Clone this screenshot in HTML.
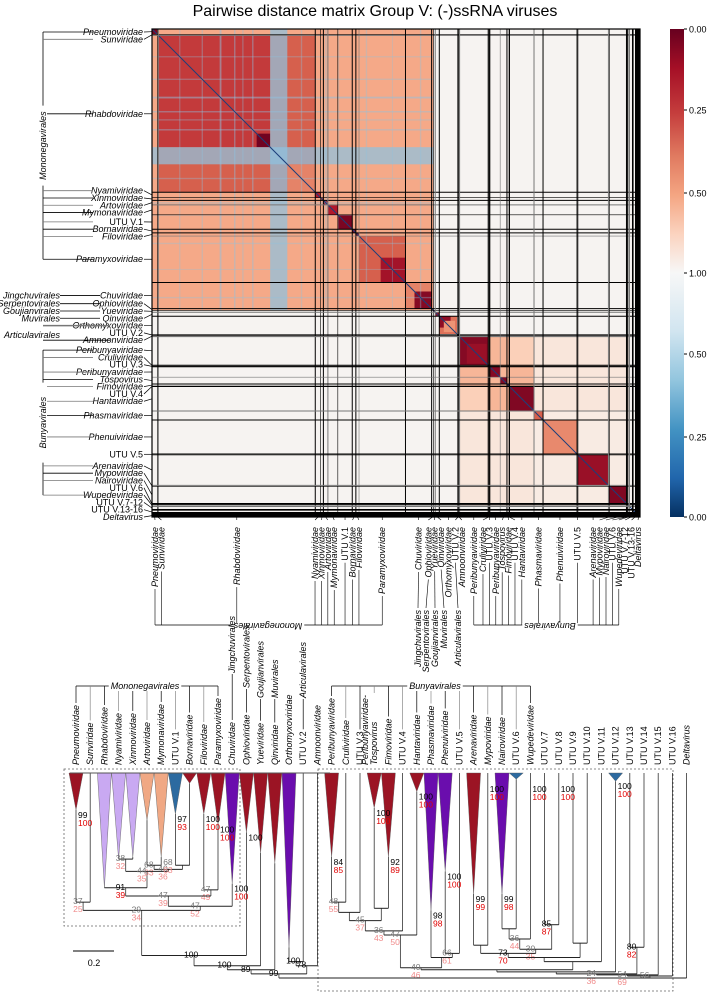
<!DOCTYPE html>
<html><head><meta charset="utf-8">
<style>
html,body{margin:0;padding:0;background:#fff;}
svg{display:block;font-family:"Liberation Sans",sans-serif;}
</style></head>
<body>
<svg id="fig" width="707" height="992" viewBox="0 0 707 992" xmlns="http://www.w3.org/2000/svg">
<text x="375" y="16" font-size="16" text-anchor="middle">Pairwise distance matrix Group V: (-)ssRNA viruses</text>
<g id="heat"></g>
<g id="heatlines"></g>
<g id="cbar"></g>
<g id="rowlab"></g>
<g id="collab"></g>
<g id="tree"></g>
</svg>
<script>
// ---------- heatmap data ----------
const famNames=['Pneumoviridae','Sunviridae','Rhabdoviridae','Nyamiviridae','Xinmoviridae','Artoviridae','Mymonaviridae','UTU V.1','Bornaviridae','Filoviridae','Paramyxoviridae','Chuviridae','Ophioviridae','Yueviridae','Qinviridae','Orthomyxoviridae','UTU V.2','Amnoonviridae','Peribunyaviridae','Cruliviridae','UTU V.3','Peribunyaviridae','Tospovirus','Fimoviridae','UTU V.4','Hantaviridae','Phasmaviridae','Phenuiviridae','UTU V.5','Arenaviridae','Mypoviridae','Nairoviridae','UTU V.6','Wupedeviridae','UTU V.7-12','UTU V.13-16','Deltavirus'];
const famSizes=[12,2,348,12,6,10,22,32,8,7,103,58,4,4,9,40,3,2,63,2,2,23,15,5,1,54,20,75,2,68,2,38,2,4,8,10,6];
const famGroups=['M','M','M','M','M','M','M','M','M','M','M','M','M','X','X','X','X','X','B1','B1','B1','B1','B1','B1','B1','B1','B2','B2','B2','B2','B2','B2','B2','B2','O','O','O'];
const famSelf=[0.04,0.1,0.3,0.15,0.2,0.1,0.15,0.04,0.06,0.08,0.32,0.4,0.1,0.1,0.1,0.35,0.1,0.1,0.08,0.1,0.1,0.06,0.05,0.1,0.1,0.05,0.3,0.42,0.1,0.1,0.1,0.05,0.1,0.1,0.95,0.95,0.95];
const crossGroups=['M|M','B1|B1','B1|B2','B2|B2'];
const crossVals=[0.52,0.58,0.86,0.9];
const hantaPeriVal=0.7;
const otherVal=0.98;
const subStart=[14,232,300,459,507,582,637,647,682,698];
const subEnd=[262,262,362,562,562,620,662,672,745,742];
const subVal=[0.22,0.02,0.4,0.3,0.12,0.06,0.08,0.45,0.06,0.1];
const stripeStart=[262,150,182,222,384,412,474,532,594,110,60,200,330];
const stripeEnd=[300,154,185,225,387,414,477,534,597,113,63,203,333];
const stripeAlpha=[0.72,0.5,0.45,0.45,0.4,0.35,0.35,0.35,0.35,0.35,0.3,0.35,0.35];
const cbTicksTop=['0.00','0.25','0.50','1.00'];
const cbTicksBot=['0.50','0.25','0.00'];

const NS='http://www.w3.org/2000/svg';
function el(tag,attrs,parent){const e=document.createElementNS(NS,tag);for(const k in attrs)e.setAttribute(k,attrs[k]);if(parent)parent.appendChild(e);return e;}
const HX0=152,HY0=29,HS=488;
const total=famSizes.reduce((a,b)=>a+b,0);
const sc=v=>v/total*HS;
const starts=[];let acc=0;famSizes.forEach(s=>{starts.push(acc);acc+=s;});
const redStops=[[0,[103,0,31]],[0.15,[178,24,43]],[0.3,[214,96,77]],[0.5,[244,165,130]],[0.75,[253,219,199]],[1,[245,245,245]]];
function cmap(v){for(let i=1;i<redStops.length;i++){if(v<=redStops[i][0]){const a=redStops[i-1],b=redStops[i];const t=(v-a[0])/(b[0]-a[0]);const c=a[1].map((x,k)=>Math.round(x+(b[1][k]-x)*t));return `rgb(${c[0]},${c[1]},${c[2]})`;}}return 'rgb(245,245,245)';}
function cross(i,j){const gi=famGroups[i],gj=famGroups[j];
 if((famNames[i]==='Hantaviridae'&&j===18)||(famNames[j]==='Hantaviridae'&&i===18))return hantaPeriVal;
 const k=crossGroups.indexOf(gi+'|'+gj)>=0?crossGroups.indexOf(gi+'|'+gj):crossGroups.indexOf(gj+'|'+gi);
 return k>=0?crossVals[k]:otherVal;}
const heat=document.getElementById('heat');
for(let i=0;i<famSizes.length;i++){for(let j=0;j<famSizes.length;j++){
 const v=i===j?famSelf[i]:cross(i,j);
 const r=el('rect',{x:HX0+sc(starts[j]),y:HY0+sc(starts[i]),width:sc(famSizes[j])+0.3,height:sc(famSizes[i])+0.3,fill:cmap(v)},heat);
 
 
}}
subStart.forEach((s,k)=>{const r=el('rect',{x:HX0+sc(s),y:HY0+sc(s),width:sc(subEnd[k]-s),height:sc(subEnd[k]-s),fill:cmap(subVal[k])},heat);
 
 });
const mEnd=starts[13];
stripeStart.forEach((s,k)=>{
 const a=el('rect',{x:HX0+sc(s),y:HY0,width:sc(stripeEnd[k]-s),height:sc(mEnd),fill:'#8fc2df','fill-opacity':stripeAlpha[k]},heat);
 
 
 const b=el('rect',{x:HX0,y:HY0+sc(s),width:sc(mEnd),height:sc(stripeEnd[k]-s),fill:'#8fc2df','fill-opacity':stripeAlpha[k]},heat);
 
 });
el('line',{x1:HX0,y1:HY0,x2:HX0+HS,y2:HY0+HS,stroke:'#1d3f7a','stroke-width':1},heat);
const hl=document.getElementById('heatlines');
for(let i=1;i<famSizes.length;i++){const p=sc(starts[i]);const w=(i>=34)?1.6:(i%3===1?0.6:1);const col=(i%4===2)?'#777':'#000';
 el('line',{x1:HX0+p,y1:HY0,x2:HX0+p,y2:HY0+HS,stroke:col,'stroke-width':w},hl);
 el('line',{x1:HX0,y1:HY0+p,x2:HX0+HS,y2:HY0+p,stroke:col,'stroke-width':w},hl);}
el('rect',{x:HX0,y:HY0,width:HS,height:HS,fill:'none',stroke:'#000','stroke-width':1.2},hl);
el('rect',{x:HX0+HS-5,y:HY0,width:5,height:HS,fill:'#000'},hl);
el('rect',{x:HX0,y:HY0+HS-5,width:HS,height:5,fill:'#000'},hl);
// colorbar
const cb=document.getElementById('cbar');
const defs=el('defs',{},cb);
const g1=el('linearGradient',{id:'gr',x1:0,y1:0,x2:0,y2:1},defs);
[[0,'#67001f'],[0.08,'#a50f26'],[0.17,'#c43c3c'],[0.26,'#e07a60'],[0.34,'#f4a582'],[0.42,'#fbd3bf'],[0.5,'#f7f7f7'],[0.62,'#d1e5f0'],[0.72,'#92c5de'],[0.82,'#4393c3'],[0.92,'#2166ac'],[1,'#053061']].forEach(s=>el('stop',{offset:s[0],'stop-color':s[1]},g1));
el('rect',{x:670,y:29,width:14,height:488,fill:'url(#gr)'},cb);
const topPos=[29,110,193,273];
cbTicksTop.forEach((t,k)=>{const y=topPos[k];el('line',{x1:684,x2:687,y1:y,y2:y,stroke:'#000'},cb);const tx=el('text',{x:689,y:y+3.5,'font-size':9},cb);tx.textContent=t;});
const botPos=[354,437,517];
cbTicksBot.forEach((t,k)=>{el('line',{x1:684,x2:687,y1:botPos[k],y2:botPos[k],stroke:'#000'},cb);const tx=el('text',{x:689,y:botPos[k]+3.5,'font-size':9},cb);tx.textContent=t;});
function spread(c,minGap,lo,hi){const p=c.slice();for(let it=0;it<200;it++){for(let i=1;i<p.length;i++){if(p[i]-p[i-1]<minGap){const d=(minGap-(p[i]-p[i-1]))/2;p[i]+=d;p[i-1]-=d;}}p[0]=Math.max(p[0],lo);p[p.length-1]=Math.min(p[p.length-1],hi);}return p;}
const centers=famSizes.map((s,i)=>sc(starts[i]+s/2));
const rowY=spread(centers.map(c=>HY0+c),7.3,HY0+3,HY0+HS);
const colX=spread(centers.map(c=>HX0+c),6.4,HX0+3,HX0+HS-2);
const rl=document.getElementById('rowlab');
famNames.forEach((n,i)=>{const ital=!n.startsWith('UTU');
 const t=el('text',{x:143,y:rowY[i]+3,'font-size':9,'text-anchor':'end','font-style':ital?'italic':'normal'},rl);t.textContent=n;
 
 
 el('line',{x1:144,y1:rowY[i],x2:HX0,y2:HY0+centers[i],stroke:'#000','stroke-width':0.7},rl);});
function bracketV(x,y1,y2,label,rows){el('line',{x1:x,y1:y1,x2:x,y2:y2,stroke:'#000','stroke-width':0.8},rl);
 rows.forEach(r=>el('line',{x1:x,y1:rowY[r],x2:x+50,y2:rowY[r],stroke:(r%2?'#777':'#000'),'stroke-width':0.8},rl));
 const t=el('text',{'font-size':9,'font-style':'italic','text-anchor':'middle',transform:`translate(${x+3},${(y1+y2)/2}) rotate(-90)`},rl);t.textContent=label;
 const bg=el('rect',{x:x-5,y:(y1+y2)/2-40,width:9,height:80,fill:'#fff'},rl);rl.insertBefore(bg,t);}
bracketV(43,rowY[0],rowY[10],'Mononegavirales',[0,1,2,3,4,5,6,7,8,9,10]);
bracketV(43,rowY[18],rowY[33],'Bunyavirales',[18,19,21,22,23,25,26,27,29,30,31,33]);
const leftOrders=['Jingchuvirales','Serpentovirales','Goujianvirales','Muvirales','Articulavirales'];
const leftOrderRow=[11,12,13,14,16];
leftOrders.forEach((n,k)=>{const y=k===4?(rowY[15]+rowY[17])/2+2:rowY[leftOrderRow[k]];const t=el('text',{x:60,y:y+3,'font-size':9,'font-style':'italic','text-anchor':'end'},rl);t.textContent=n;
 if(k<4)el('line',{x1:60,y1:rowY[leftOrderRow[k]],x2:100,y2:rowY[leftOrderRow[k]],stroke:'#000','stroke-width':0.8},rl);
 else{el('line',{x1:43,y1:rowY[15],x2:110,y2:rowY[15],stroke:'#777','stroke-width':1.5},rl);el('line',{x1:43,y1:rowY[17],x2:110,y2:rowY[17],stroke:'#000','stroke-width':0.8},rl);}});
const cl=document.getElementById('collab');
const colBottom=[];
famNames.forEach((n,i)=>{const ital=!n.startsWith('UTU');
 const t=el('text',{'font-size':9,'text-anchor':'end','font-style':ital?'italic':'normal',transform:`translate(${colX[i]+3},527) rotate(-90)`},cl);t.textContent=n;
 
 
 el('line',{x1:HX0+centers[i],y1:HY0+HS,x2:colX[i],y2:520,stroke:'#000','stroke-width':0.6},cl);
 colBottom.push(527+t.getComputedTextLength()+2);});
const bracketY=625;
famNames.forEach((n,i)=>{if(i<=10||(i>=18&&i<=33)){el('line',{x1:colX[i],y1:colBottom[i],x2:colX[i],y2:bracketY,stroke:'#000','stroke-width':0.6},cl);}});
el('line',{x1:colX[0],y1:bracketY,x2:colX[10],y2:bracketY,stroke:'#000','stroke-width':0.8},cl);
el('line',{x1:colX[18],y1:bracketY,x2:colX[33],y2:bracketY,stroke:'#000','stroke-width':0.8},cl);
[['Mononegavirales',268],['Bunyavirales',550]].forEach(a=>{const t=el('text',{'font-size':9,'font-style':'italic','text-anchor':'middle',transform:`translate(${a[1]},${bracketY-2}) rotate(180)`},cl);t.textContent=a[0];const w=t.getComputedTextLength();const bg=el('rect',{x:a[1]-w/2-2,y:bracketY-2,width:w+4,height:3,fill:'#fff'},cl);cl.insertBefore(bg,t);});
leftOrders.forEach((n,k)=>{const x=[418,426,435,444,458][k];const t=el('text',{'font-size':9,'font-style':'italic','text-anchor':'end',transform:`translate(${x+3},610) rotate(-90)`},cl);t.textContent=n;
 const ci=[11,12,13,14,16][k];el('line',{x1:colX[ci],y1:colBottom[ci],x2:x,y2:608,stroke:'#000','stroke-width':0.6},cl);});

// ---------- tree data ----------
const tipNames=['Pneumoviridae','Sunviridae','Rhabdoviridae','Nyamiviridae','Xinmoviridae','Artoviridae','Mymonaviridae','UTU V.1','Bornaviridae','Filoviridae','Paramyxoviridae','Chuviridae','Ophioviridae','Yueviridae','Qinviridae','Orthomyxoviridae','UTU V.2','Amnoonviridae','Peribunyaviridae','Cruliviridae','UTU V.3','Peribunyaviridae-|Tospovirus','Fimoviridae','UTU V.4','Hantaviridae','Phasmaviridae','Phenuiviridae','UTU V.5','Arenaviridae','Mypoviridae','Nairoviridae','UTU V.6','Wupedeviridae','UTU V.7','UTU V.8','UTU V.9','UTU V.10','UTU V.11','UTU V.12','UTU V.13','UTU V.14','UTU V.15','UTU V.16','Deltavirus'];
const triColor=['#9b1424',null,'#c9a9f2','#c9a9f2','#c9a9f2','#f0a884','#f0a884','#2c6aa0','#9b1424','#9b1424','#9b1424','#6a0dad','#9b1424','#9b1424','#9b1424','#6a0dad',null,null,'#9b1424',null,null,'#9b1424','#9b1424',null,'#9b1424','#6a0dad','#6a0dad',null,'#9b1424',null,'#6a0dad','#2c6aa0',null,null,null,null,null,null,'#2c6aa0',null,null,null,null,null];
const triDepth=[0.18,0,0.56,0.42,0.41,0.23,0.41,0.2,0.05,0.2,0.25,0.54,0.29,0.39,0.44,0.85,0,0,0.41,0,0,0.17,0.41,0,0.09,0.67,0.48,0,0.59,0,0.59,0.03,0,0,0,0,0,0,0.04,0,0,0,0,0];
const PS=[0.63,'37/25',0,1],NX=[0.42,'38/32',3,4],AM=[0.45,'68/63',5,6],UB=[0.45,'',7,8];
const AMUB=[0.47,'40/36',AM,UB],NXA=[0.48,'44/35',NX,AMUB],RN=[0.56,'91/39',2,NXA],FP=[0.57,'47/49',9,10];
const N47a=[0.6,'47/39',RN,FP],N47b=[0.65,'47/52',N47a,11],Mono=[0.67,'29/34',PS,N47b];
const N100a=[0.89,'100',Mono,12],N100b=[0.94,'100',N100a,13],N89=[0.96,'89',N100b,14];
const OU=[0.92,'100',15,16],N78=[0.94,'78',OU,17],LT=[0.98,'99',N89,N78];
const PC=[0.63,'48/55',18,19],PCU=[0.68,'',PC,20],TF=[0.66,'',21,22],N45=[0.72,'45/37',PCU,TF];
const N36=[0.77,'36/43',N45,23],N47c=[0.79,'47/50',N36,24],PU=[0.88,'66/61',26,27],P3=[0.9,'',25,PU];
const B1=[0.95,'40/46',N47c,P3],AM2=[0.84,'',28,29],NU=[0.76,'',30,31],N3644=[0.81,'36/44',NU,32];
const U78=[0.74,'85/87',33,34],N30=[0.86,'30/35',N3644,U78],N73=[0.88,'73/70',AM2,N30];
const U910=[0.83,'',35,36],R3=[0.9,'',N73,U910],R4=[0.92,'',R3,37],R6=[0.96,'',B1,R4],R7=[0.97,'',R6,38];
const U1314=[0.85,'80/82',39,40],R8=[0.98,'24/36',R7,U1314],R9=[0.985,'54/69',R8,41],R10=[0.99,'56',R9,42];
const ROOT=[1.0,'',LT,R10,43];
const tipSupIdx=[0,7,9,10,11,12,18,21,22,24,25,26,28,29,30,32,34,38,6];
const tipSupTxt=['99/100','97/93','100/100','100/100','100/100','100','84/85','100/100','92/89','100/100','98/98','100/100','99/99','100/100','99/98','100/100','100/100','100/100','68/63'];

const T=document.getElementById('tree');
const tipX=i=>76+i*14.2;
const dY=d=>773+d*205;
el('rect',{x:64,y:769,width:176,height:157,fill:'none',stroke:'#666','stroke-dasharray':'2,2','stroke-width':0.8},T);
el('rect',{x:318,y:769,width:355,height:222,fill:'none',stroke:'#666','stroke-dasharray':'2,2','stroke-width':0.8},T);
function nodeX(n){if(typeof n==='number')return tipX(n);const cs=n.slice(2);return cs.reduce((a,c)=>a+nodeX(c),0)/cs.length;}
function topY(n){if(typeof n==='number')return dY(triDepth[n]);return dY(n[0]);}
function supLabel(x,y,txt){const parts=txt.split('/');const low=parseInt(parts[0])<70;
 const a=el('text',{x:x,y:y+2,'font-size':8.5,fill:low?'#777':'#000'},T);a.textContent=parts[0];
 if(parts[1]){const b=el('text',{x:x,y:y+10,'font-size':8.5,fill:low?'#f08a8a':'#e00000'},T);b.textContent=parts[1];}}
function drawNode(n){const y=dY(n[0]);const cs=n.slice(2);const xs=cs.map(nodeX);
 cs.forEach((c,k)=>{el('line',{x1:xs[k],y1:topY(c),x2:xs[k],y2:y,stroke:'#333','stroke-width':0.8},T);if(typeof c!=='number')drawNode(c);});
 el('line',{x1:Math.min(...xs),y1:y,x2:Math.max(...xs),y2:y,stroke:'#222','stroke-width':1},T);
 if(n[1])supLabel(nodeX(n)-10,y,n[1]);}
drawNode(ROOT);
tipNames.forEach((n,i)=>{if(triColor[i]){const x=tipX(i);const p=el('polygon',{points:`${x-7},773 ${x+7},773 ${x},${dY(triDepth[i])}`,fill:triColor[i],stroke:'#555','stroke-width':0.4},T);
 
 }});
el('line',{x1:70,y1:773,x2:330,y2:773,stroke:'#555','stroke-width':1},T);
tipSupIdx.forEach((ti,k)=>{const y=triColor[ti]?dY(triDepth[ti])+6:790;supLabel(tipX(ti)+2,y,tipSupTxt[k]);});
const tipTop=[];
tipNames.forEach((n,i)=>{const ital=!n.startsWith('UTU');const lines=n.split('|');
 let len=0;lines.forEach((ln,k)=>{const t=el('text',{'font-size':9,'font-style':ital?'italic':'normal',transform:`translate(${tipX(i)+3-(lines.length-1-k)*9},765) rotate(-90)`},T);t.textContent=ln;len=Math.max(len,t.getComputedTextLength());
 
 });
 tipTop.push(765-len-2);});
function treeBracket(a,b,label,cx){const y=686;el('line',{x1:tipX(a),y1:y,x2:tipX(b),y2:y,stroke:'#000','stroke-width':0.8},T);
 for(let i=a;i<=b;i++)el('line',{x1:tipX(i),y1:y,x2:tipX(i),y2:tipTop[i],stroke:(i%2?'#888':'#000'),'stroke-width':0.7},T);
 const t=el('text',{x:cx,y:y+3,'font-size':9,'font-style':'italic','text-anchor':'middle'},T);t.textContent=label;const w=t.getComputedTextLength();const bg=el('rect',{x:cx-w/2-2,y:y-5,width:w+4,height:10,fill:'#fff'},T);T.insertBefore(bg,t);}
treeBracket(0,10,'Mononegavirales',145);
treeBracket(18,32,'Bunyavirales',435);
const treeOrdTip=[11,12,13,14,16];const treeOrdBottom=[673,688,698,698,698];
leftOrders.forEach((n,k)=>{const x=tipX(treeOrdTip[k]);const t=el('text',{'font-size':9,'font-style':'italic',transform:`translate(${x+3},${treeOrdBottom[k]}) rotate(-90)`},T);t.textContent=n;
 el('line',{x1:x,y1:treeOrdBottom[k]+1,x2:x,y2:tipTop[treeOrdTip[k]],stroke:'#000','stroke-width':0.7},T);});
el('line',{x1:73,y1:951,x2:114,y2:951,stroke:'#000','stroke-width':1},T);
const sb=el('text',{x:94,y:966,'font-size':9,'text-anchor':'middle'},T);sb.textContent='0.2';


</script>
</body></html>
